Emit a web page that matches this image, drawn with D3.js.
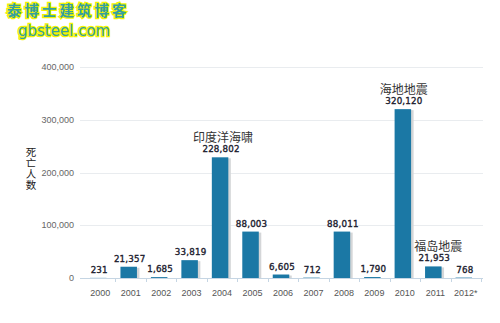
<!DOCTYPE html>
<html><head><meta charset="utf-8">
<script src="https://cdn.jsdelivr.net/npm/d3@7"></script>
<style>body{margin:0;background:#fff}svg{display:block}</style>
</head><body>
<svg id="c" width="500" height="323"></svg>
<script>
const years = ["2000","2001","2002","2003","2004","2005","2006","2007","2008","2009","2010","2011","2012*"];
const deaths = [231,21357,1685,33819,228802,88003,6605,712,88011,1790,320120,21953,768];
const yTicks = [0,100000,200000,300000,400000];
const noteYears = ["2004","2010","2011"];
const noteTexts = ["印度洋海啸","海地地震","福岛地震"];
const yTitle = "死亡人数";

const svg = d3.select("#c");
const x = d3.scaleBand().domain(years).range([85,481]).paddingInner(0).paddingOuter(0);
const y = d3.scaleLinear().domain([0,400000]).range([278,67]);
const fmt = d3.format(",");

// grid
svg.append("g").selectAll("line").data(yTicks.slice(1)).join("line")
  .attr("x1",80).attr("x2",483).attr("y1",d=>Math.round(y(d))+0.5).attr("y2",d=>Math.round(y(d))+0.5)
  .attr("stroke","#e9ecef").attr("stroke-width",1);

// y labels
svg.append("g").selectAll("text").data(yTicks).join("text")
  .attr("x",74).attr("y",d=>y(d)+3).attr("text-anchor","end")
  .attr("font-family","Liberation Sans, Arial, sans-serif").attr("font-size",9)
  .attr("fill","#666").text(d=>fmt(d));

// y title (vertical)
svg.append("text")
  .attr("x",31).attr("y",147)
  .attr("writing-mode","vertical-rl")
  .style("text-orientation","upright")
  .attr("letter-spacing",0.5)
  .attr("font-family","Noto Sans CJK SC, sans-serif").attr("font-size",10.5)
  .attr("fill","#222").text(yTitle);

const bw = 16.5;
const cx = d => x(d)+x.bandwidth()/2 - 2;
// shadows
svg.append("g").selectAll("rect").data(years).join("rect")
  .attr("x",d=>cx(d)-bw/2+2.5).attr("width",bw)
  .attr("y",(d,i)=>y(deaths[i])+1).attr("height",(d,i)=>Math.max(0,278-y(deaths[i])-1))
  .attr("fill","#d4d6d8");
// bars
svg.append("g").selectAll("rect").data(years).join("rect")
  .attr("x",d=>cx(d)-bw/2).attr("width",bw)
  .attr("y",(d,i)=>y(deaths[i])).attr("height",(d,i)=>278-y(deaths[i]))
  .attr("fill","#1b78a5");

// axis line
svg.append("line").attr("x1",80).attr("x2",483).attr("y1",278.5).attr("y2",278.5)
  .attr("stroke","#c5d5e3").attr("stroke-width",1);
svg.append("g").selectAll("line").data(years).join("line")
  .attr("x1",(d,i)=>Math.round(x.range()[0]+(i+1)*x.step())+0.5).attr("x2",(d,i)=>Math.round(x.range()[0]+(i+1)*x.step())+0.5)
  .attr("y1",278).attr("y2",282).attr("stroke","#c5d5e3");

// x labels
svg.append("g").selectAll("text").data(years).join("text")
  .attr("x",d=>x(d)+x.bandwidth()/2).attr("y",296).attr("text-anchor","middle")
  .attr("font-family","Liberation Sans, Arial, sans-serif").attr("font-size",9)
  .attr("fill","#555").text(d=>d);

// value labels
svg.append("g").selectAll("text").data(years).join("text")
  .attr("x",d=>cx(d)+1).attr("y",(d,i)=>y(deaths[i])-5).attr("text-anchor","middle")
  .attr("font-family","DejaVu Sans, sans-serif").attr("font-size",8.7)
  .attr("letter-spacing",0.2)
  .attr("fill","#20202e").attr("stroke","#20202e").attr("stroke-width",0.35)
  .text((d,i)=>fmt(deaths[i]));

// annotations
const noteDx = [3,1,5];
svg.append("g").selectAll("text").data(noteYears).join("text")
  .attr("x",(d,i)=>cx(d)+noteDx[i]).attr("y",d=>y(deaths[years.indexOf(d)])-15)
  .attr("text-anchor","middle")
  .attr("font-family","Noto Sans CJK SC, sans-serif").attr("font-size",12)
  .attr("fill","#333").text((d,i)=>noteTexts[i]);

// watermark
const wm = svg.append("g");
wm.append("text").attr("x",7).attr("y",16)
  .attr("font-family","Noto Sans CJK SC, sans-serif").attr("font-size",14.5).attr("font-weight","bold")
  .attr("letter-spacing",3)
  .attr("fill","#34a0a0").attr("stroke","#f4f400").attr("stroke-width",2.5).attr("paint-order","stroke")
  .text("泰博士建筑博客");
wm.append("text").attr("x",18).attr("y",36)
  .attr("font-family","DejaVu Sans, sans-serif").attr("font-size",15)
  .attr("fill","#34a0a0").attr("stroke","#f4f400").attr("stroke-width",2.5).attr("paint-order","stroke")
  .text("gbsteel.com");
</script>
</body></html>
